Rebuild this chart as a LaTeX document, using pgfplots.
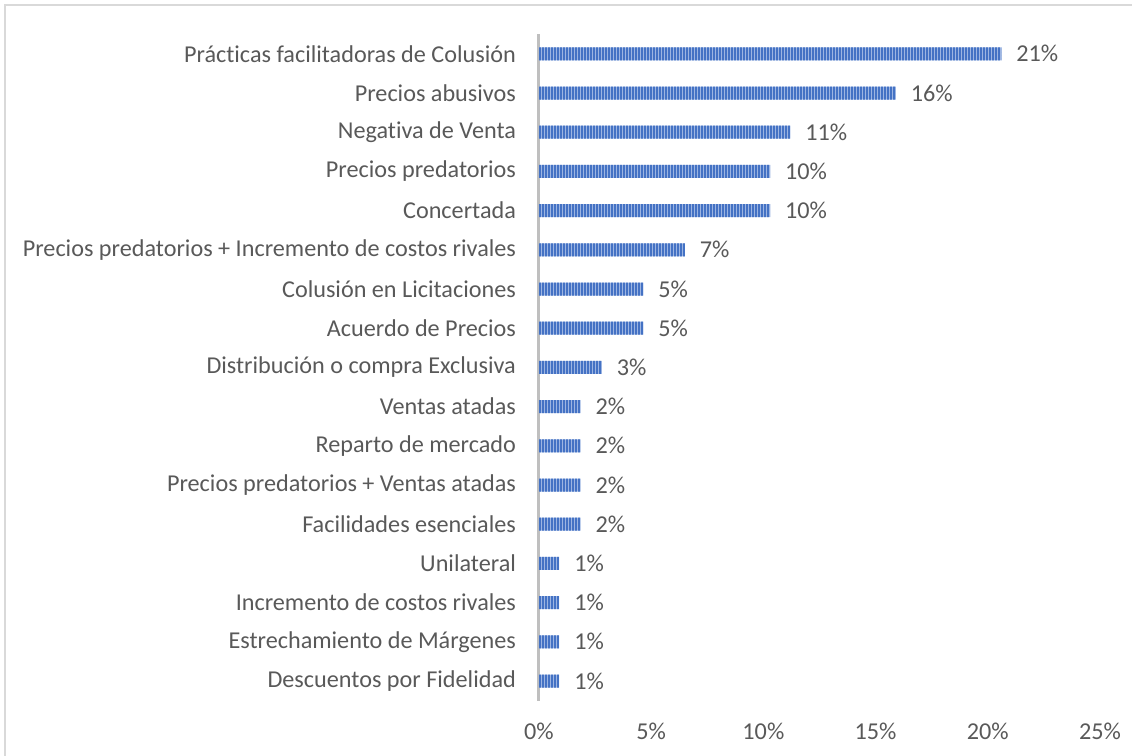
\documentclass[border=0pt]{standalone}
\usepackage{pgfplots}
\pgfplotsset{compat=1.18}
\usepackage{pgfplotstable}
\usepackage{fontspec}
\setmainfont{Carlito}[Ligatures={NoCommon}]
\usetikzlibrary{patterns.meta}
\definecolor{txt}{HTML}{595959}
\definecolor{barfill}{HTML}{9DB5E2}
\definecolor{barline}{HTML}{4472C4}
\definecolor{axgray}{HTML}{BFBFBF}
\definecolor{framec}{HTML}{D9D9D9}

\pgfplotstableread{
y v p
0 20.6 21
1 15.9 16
2 11.2 11
3 10.3 10
4 10.3 10
5 6.5 7
6 4.65 5
7 4.65 5
8 2.8 3
9 1.85 2
10 1.85 2
11 1.85 2
12 1.85 2
13 0.9 1
14 0.9 1
15 0.9 1
16 0.9 1
}\datatable

\begin{document}
\begin{tikzpicture}
\path[use as bounding box] (-269.5pt,-27.7pt) rectangle (296.5pt,350.3pt);
\draw[framec, line width=1pt] (-267pt,-27.7pt) -- (-267pt,347.8pt) -- (296.5pt,347.8pt);
\begin{axis}[
  at={(0,0)}, anchor=south west,
  scale only axis,
  width=280.5pt, height=333.2pt,
  xbar, bar width=6.5pt,
  y dir=reverse,
  ymin=-0.5, ymax=16.5,
  xmin=0, xmax=25,
  axis lines*=left,
  x axis line style={draw=none},
  y axis line style={draw=axgray, line width=1.5pt},
  major tick length=0pt,
  xtick={0,5,10,15,20,25},
  xticklabels={0\%,5\%,10\%,15\%,20\%,25\%},
  ytick={0,...,16},
  yticklabels={Prácticas facilitadoras de Colusión,Precios abusivos,Negativa de Venta,Precios predatorios,Concertada,Precios predatorios + Incremento de costos rivales,Colusión en Licitaciones,Acuerdo de Precios,Distribución o compra Exclusiva,Ventas atadas,Reparto de mercado,Precios predatorios + Ventas atadas,Facilidades esenciales,Unilateral,Incremento de costos rivales,Estrechamiento de Márgenes,Descuentos por Fidelidad},
  tick label style={font=\fontsize{12.1pt}{14pt}\selectfont, text=txt},
  yticklabel style={xshift=-8pt},
  xticklabel style={yshift=-7.5pt},
  /pgf/number format/assume math mode=true,
  nodes near coords={\pgfmathprintnumber{\pgfplotspointmeta}\%},
  point meta=explicit,
  every node near coord/.append style={anchor=west, font=\fontsize{12.1pt}{14pt}\selectfont, text=txt, xshift=4pt},
  clip=false,
]
\addplot[draw=none, fill=barfill, postaction={pattern={Lines[angle=90, distance=1.5pt, line width=0.6pt]}, pattern color=barline}] table[x=v, y=y, meta=p] {\datatable};
\end{axis}
\end{tikzpicture}
\end{document}
